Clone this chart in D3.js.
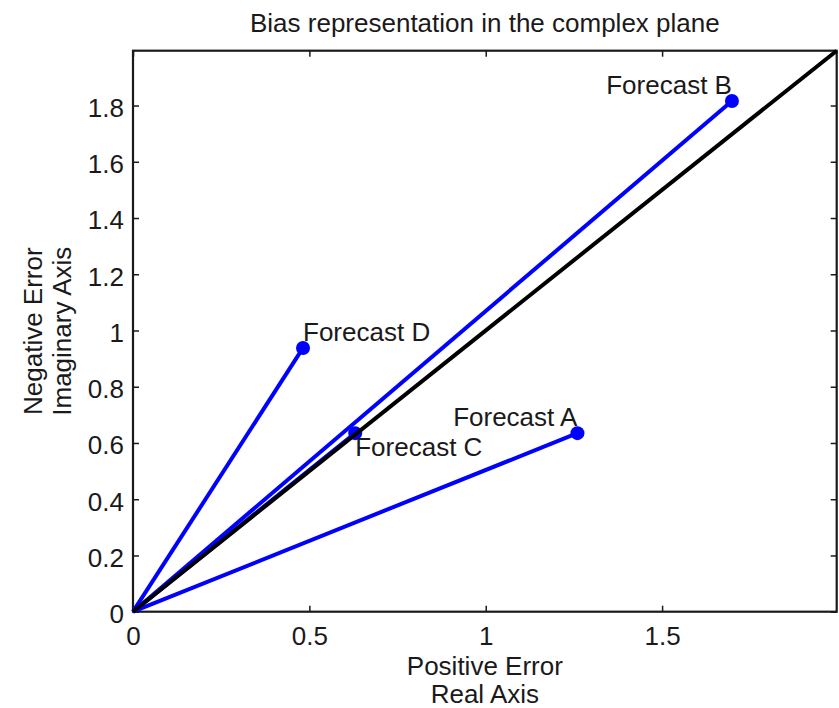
<!DOCTYPE html>
<html>
<head>
<meta charset="utf-8">
<script src="https://cdn.jsdelivr.net/npm/d3@7"></script>
<style>
  body { margin: 0; background: #fff; }
  svg text { font-family: "Liberation Sans", Arial, Helvetica, sans-serif; fill: #1a1a1a; }
</style>
</head>
<body>
<svg id="chart" width="839" height="708"></svg>
<script>
// forecast bias vectors (real = positive error, imag = negative error)
var names = ["Forecast A", "Forecast B", "Forecast C", "Forecast D"];
var realPart = [1.26, 1.698, 0.63, 0.482];
var imagPart = [0.635, 1.816, 0.635, 0.938];
// label placement: which side of the point the text sits
var labelAnchor = ["end", "end", "start", "start"];
var labelBelow = [false, false, true, false];

var diagonal = [[0, 0], [1.995, 1.995]];
var xTicks = [0, 0.5, 1, 1.5];
var yTicks = [0, 0.2, 0.4, 0.6, 0.8, 1, 1.2, 1.4, 1.6, 1.8];
var axisMax = 1.995;

var svg = d3.select("#chart"),
    margin = {top: 50.7, right: 2.3, bottom: 96.3, left: 133},
    width = +svg.attr("width") - margin.left - margin.right,
    height = +svg.attr("height") - margin.top - margin.bottom,
    g = svg.append("g").attr("transform", "translate(" + margin.left + "," + margin.top + ")");

var x = d3.scaleLinear().domain([0, axisMax]).range([0, width]),
    y = d3.scaleLinear().domain([0, axisMax]).range([height, 0]);

var fmt = function(d) { return d3.format("~g")(d); };
var fs = 26;

// axes, ticks pointing inward on all four sides
var bottomAxis = g.append("g")
    .attr("transform", "translate(0," + height + ")")
    .call(d3.axisBottom(x).tickValues(xTicks).tickFormat(fmt).tickSize(-6).tickPadding(15));
var leftAxis = g.append("g")
    .call(d3.axisLeft(y).tickValues(yTicks).tickFormat(fmt).tickSize(-6).tickPadding(9));
g.append("g")
    .call(d3.axisTop(x).tickValues(xTicks).tickFormat("").tickSize(-6));
g.append("g")
    .attr("transform", "translate(" + width + ",0)")
    .call(d3.axisRight(y).tickValues(yTicks).tickFormat("").tickSize(-6));

g.selectAll(".domain").remove();
g.selectAll(".tick line").attr("stroke", "#1a1a1a").attr("stroke-width", 1.5);
g.selectAll(".tick text").style("font-size", fs + "px").attr("fill", "#1a1a1a");
leftAxis.selectAll(".tick text").attr("dy", "0.42em");

g.append("rect")
    .attr("width", width)
    .attr("height", height)
    .attr("fill", "none")
    .attr("stroke", "#1a1a1a")
    .attr("stroke-width", 2.2);

var line = d3.line()
    .x(function(d) { return x(d[0]); })
    .y(function(d) { return y(d[1]); });

// blue vectors from the origin
names.forEach(function(n, i) {
  g.append("path")
      .attr("d", line([[0, 0], [realPart[i], imagPart[i]]]))
      .attr("fill", "none")
      .attr("stroke", "#0000ff")
      .attr("stroke-width", 4);
});

g.selectAll(".pt")
    .data(names)
    .enter().append("circle")
    .attr("class", "pt")
    .attr("cx", function(d, i) { return x(realPart[i]); })
    .attr("cy", function(d, i) { return y(imagPart[i]); })
    .attr("r", 7)
    .attr("fill", "#0000ff");

// unbiased reference line
g.append("path")
    .attr("d", line(diagonal))
    .attr("fill", "none")
    .attr("stroke", "#000")
    .attr("stroke-width", 4);

g.selectAll(".lbl")
    .data(names)
    .enter().append("text")
    .attr("class", "lbl")
    .attr("x", function(d, i) { return x(realPart[i]); })
    .attr("y", function(d, i) { return y(imagPart[i]) + (labelBelow[i] ? 23 : -7); })
    .attr("text-anchor", function(d, i) { return labelAnchor[i]; })
    .style("font-size", fs + "px")
    .text(function(d) { return d; });

// titles
svg.append("text")
    .attr("x", margin.left + width / 2)
    .attr("y", 32)
    .attr("text-anchor", "middle")
    .style("font-size", fs + "px")
    .text("Bias representation in the complex plane");

var xl = svg.append("text")
    .attr("x", margin.left + width / 2)
    .attr("text-anchor", "middle")
    .style("font-size", fs + "px");
xl.append("tspan").attr("x", margin.left + width / 2).attr("y", 675).text("Positive Error");
xl.append("tspan").attr("x", margin.left + width / 2).attr("y", 703).text("Real Axis");

var cy = margin.top + height / 2;
var yl = svg.append("text")
    .attr("transform", "rotate(-90)")
    .attr("text-anchor", "middle")
    .style("font-size", fs + "px");
yl.append("tspan").attr("x", -cy).attr("y", 42).text("Negative Error");
yl.append("tspan").attr("x", -cy).attr("y", 71).text("Imaginary Axis");
</script>
</body>
</html>
